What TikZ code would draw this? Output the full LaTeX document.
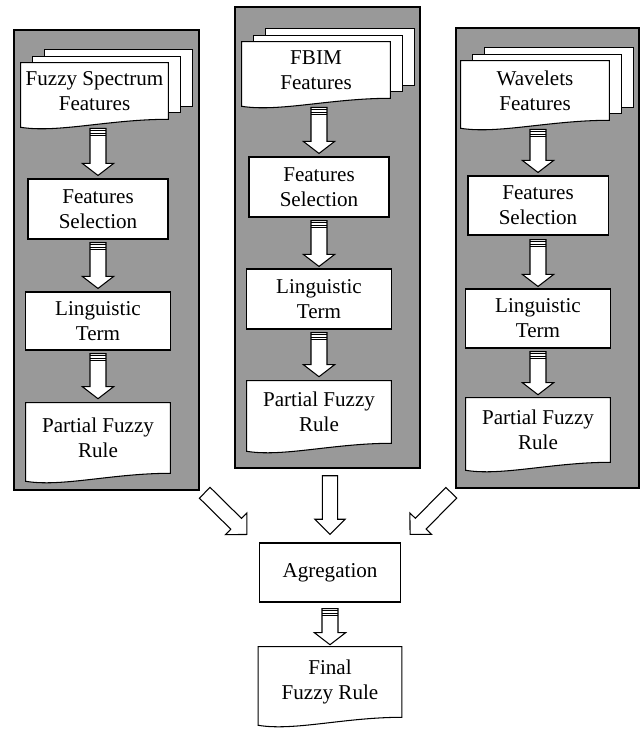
\documentclass[tikz,border=0pt]{standalone}
\usepackage{fontspec}
\setmainfont{Liberation Serif}
\usepackage{tikz}
\usetikzlibrary{calc}

\definecolor{panelgray}{RGB}{153,153,153}
\pgfdeclarelayer{sheets}
\pgfsetlayers{sheets,main}

% block arrow: start, tip, half shaft, half head, head length
\newcommand{\blockarr}[5]{%
  \coordinate (ba-s) at (#1);
  \coordinate (ba-t) at (#2);
  \coordinate (ba-b) at ($(ba-t)!#5!(ba-s)$);
  \draw[blockarrow] ($(ba-s)!#3!90:(ba-t)$) -- ($(ba-b)!#3!-90:(ba-s)$)
    -- ($(ba-b)!#4!-90:(ba-s)$) -- (ba-t) -- ($(ba-b)!#4!90:(ba-s)$)
    -- ($(ba-b)!#3!90:(ba-s)$) -- ($(ba-s)!#3!-90:(ba-t)$) -- cycle;
}
\newcommand{\flowarrow}[2]{%
  \blockarr{#1}{#2}{0.2cm}{0.39cm}{0.3cm}
  \foreach \k in {0cm,0.06cm,0.12cm,0.18cm}{
    \coordinate (ba-k) at ($(ba-s)!\k!(ba-t)$);
    \draw[stripe] ($(ba-k)!0.2cm!90:(ba-t)$) -- ($(ba-k)!0.2cm!-90:(ba-t)$);
  }
}
\newcommand{\mergearrow}[2]{\blockarr{#1}{#2}{0.19cm}{0.38cm}{0.38cm}}
% front sheet with a wavy bottom
\newcommand{\docsheet}[1]{%
  \begin{pgfonlayer}{sheets}
    \draw[sheet] (#1.south east) -- (#1.north east) -- (#1.north west)
      -- ($(#1.south west)+(0,8)$)
      .. controls ($(#1.south west)!0.25!(#1.south east)+(0,14)$)
      and ($(#1.south west)!0.6!(#1.south east)$) .. (#1.south east) -- cycle;
  \end{pgfonlayer}
}
\newcommand{\docstack}[1]{%
  \begin{pgfonlayer}{sheets}
    \foreach \dx/\dy in {24/-13,12/-6.5}
      \draw[sheet] ($(#1.north west)+(\dx,\dy)$) rectangle ($(#1.south east)+(\dx,\dy)$);
  \end{pgfonlayer}
  \docsheet{#1}
}

\begin{document}
\begin{tikzpicture}[x=0.025cm,y=-0.025cm,
  txt/.style={align=center,inner sep=0pt,font=\fontsize{15}{17.8}\selectfont},
  box/.style={txt,draw,fill=white,line width=0.75pt},
  doc/.style={txt},
  panel/.style={draw,fill=panelgray,line width=1pt},
  sheet/.style={draw,fill=white,line width=0.75pt},
  blockarrow/.style={draw,fill=white,line width=0.75pt},
  stripe/.style={line width=0.7pt}]
  \useasboundingbox (0,0) rectangle (640,734);

  \begin{pgfonlayer}{sheets}
    \node[panel,minimum width=4.625cm,minimum height=11.5cm] (p1) at (106.5,260) {};
    \node[panel,minimum width=4.625cm,minimum height=11.525cm] (p2) at (327.5,237.5) {};
    \node[panel,minimum width=4.575cm,minimum height=11.5cm] (p3) at (547.5,258) {};
  \end{pgfonlayer}

  \node[doc,minimum width=3.675cm,minimum height=1.4cm] (fs1) at (94.5,91) {Fuzzy Spectrum\\Features};
  \node[box,minimum width=3.5cm,minimum height=1.5cm] (sel1) at (98,209) {Features\\Selection};
  \node[box,minimum width=3.625cm,minimum height=1.45cm] (lin1) at (98,321) {Linguistic\\Term};
  \node[doc,minimum width=3.6cm,minimum height=1.75cm] (pr1) at (98,438) {Partial Fuzzy\\Rule};

  \node[doc,minimum width=3.7cm,minimum height=1.4cm] (fs2) at (316,70) {FBIM\\Features};
  \node[box,minimum width=3.5cm,minimum height=1.5cm] (sel2) at (319,187) {Features\\Selection};
  \node[box,minimum width=3.625cm,minimum height=1.5cm] (lin2) at (319,299) {Linguistic\\Term};
  \node[doc,minimum width=3.6cm,minimum height=1.55cm] (pr2) at (319,412) {Partial Fuzzy\\Rule};

  \node[doc,minimum width=3.7cm,minimum height=1.475cm] (fs3) at (535,90.5) {Wavelets\\Features};
  \node[box,minimum width=3.5cm,minimum height=1.475cm] (sel3) at (538,205.5) {Features\\Selection};
  \node[box,minimum width=3.625cm,minimum height=1.475cm] (lin3) at (538,318.5) {Linguistic\\Term};
  \node[doc,minimum width=3.6cm,minimum height=1.6cm] (pr3) at (538,430) {Partial Fuzzy\\Rule};

  \node[box,minimum width=3.525cm,minimum height=1.475cm] (agg) at (330,572.5) {Agregation};
  \node[doc,minimum width=3.575cm,minimum height=1.75cm] (fin) at (330,682) {Final\\Fuzzy Rule};

  \docstack{fs1}
  \docstack{fs2}
  \docstack{fs3}
  \docsheet{pr1}
  \docsheet{pr2}
  \docsheet{pr3}
  \docsheet{fin}

  \flowarrow{$(fs1.south -| sel1.north)+(0,9)$}{$(sel1.north)+(0,-3)$}
  \flowarrow{$(sel1.south)+(0,3)$}{$(lin1.north)+(0,-3)$}
  \flowarrow{$(lin1.south)+(0,3)$}{$(pr1.north)+(0,-4)$}
  \flowarrow{$(fs2.south -| sel2.north)+(0,9)$}{$(sel2.north)+(0,-3)$}
  \flowarrow{$(sel2.south)+(0,3)$}{$(lin2.north)+(0,-2)$}
  \flowarrow{$(lin2.south)+(0,3)$}{$(pr2.north)+(0,-4)$}
  \flowarrow{$(fs3.south -| sel3.north)+(0,9)$}{$(sel3.north)+(0,-3)$}
  \flowarrow{$(sel3.south)+(0,4)$}{$(lin3.north)+(0,-2)$}
  \flowarrow{$(lin3.south)+(0,3)$}{$(pr3.north)+(0,-3)$}
  \flowarrow{$(agg.south)+(0,6)$}{$(fin.north)+(0,-2)$}

  \mergearrow{$(p1.south east)+(5,2)$}{$(agg.north west)+(-12,-8)$}
  \mergearrow{$(p2.south -| agg.north)+(0,7)$}{$(agg.north)+(0,-8)$}
  \mergearrow{$(p3.south west)+(-4,4)$}{$(agg.north east)+(9,-8)$}
\end{tikzpicture}
\end{document}
